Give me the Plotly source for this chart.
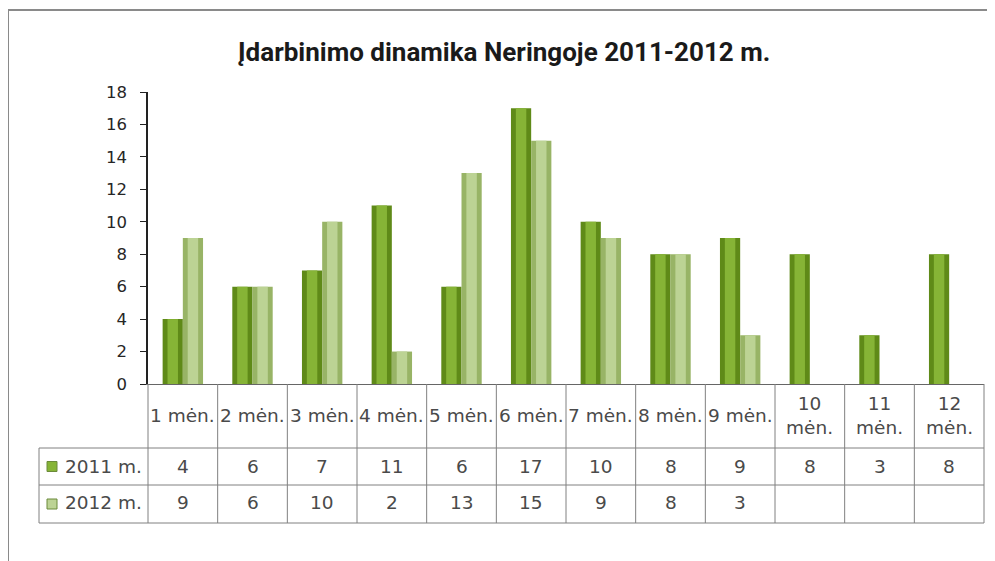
import plotly.graph_objects as go

# ---- data ----
categories = ["1 mėn.", "2 mėn.", "3 mėn.", "4 mėn.", "5 mėn.", "6 mėn.",
              "7 mėn.", "8 mėn.", "9 mėn.", "10 mėn.", "11 mėn.", "12 mėn."]
table_labels = ["1 mėn.", "2 mėn.", "3 mėn.", "4 mėn.", "5 mėn.", "6 mėn.",
                "7 mėn.", "8 mėn.", "9 mėn.", "10<br>mėn.", "11<br>mėn.", "12<br>mėn."]
series_names = ["2011 m.", "2012 m."]
values_2011 = [4, 6, 7, 11, 6, 17, 10, 8, 9, 8, 3, 8]
values_2012 = [9, 6, 10, 2, 13, 15, 9, 8, 3, None, None, None]
y_ticks = [0, 2, 4, 6, 8, 10, 12, 14, 16, 18]
title_text = "Įdarbinimo dinamika Neringoje 2011-2012 m."

# ---- geometry (reference pixels; page body adds an 8px offset) ----
OFF = 8
W, H = 995 - OFF, 561 - OFF
L, R, T, B = 148, 984, 92, 384   # plot area in reference pixels


def px(x):
    return (x - L) / (R - L)


def py(y):
    return (B - y) / (B - T)


dark_out, dark_in = "#5f8a18", "#86b436"
light_out, light_in = "#98b466", "#bcd394"

fig = go.Figure()
bw = 0.29
fig.add_trace(go.Bar(x=categories, y=values_2011, width=bw, offset=-bw,
                     marker=dict(color=dark_out, line=dict(width=0)), name=series_names[0]))
fig.add_trace(go.Bar(x=categories, y=values_2011, width=0.15, offset=-bw + 0.07,
                     marker=dict(color=dark_in, line=dict(width=0)), showlegend=False))
fig.add_trace(go.Bar(x=categories, y=values_2012, width=bw, offset=0,
                     marker=dict(color=light_out, line=dict(width=0)), name=series_names[1]))
fig.add_trace(go.Bar(x=categories, y=values_2012, width=0.15, offset=0.07,
                     marker=dict(color=light_in, line=dict(width=0)), showlegend=False))

shapes = []
line_col = "#808080"
# outer chart border (top and left visible)
shapes.append(dict(type="line", xref="paper", yref="paper", x0=px(8), x1=px(1000), y0=py(10), y1=py(10),
                   line=dict(color="#8a8a8a", width=2)))
shapes.append(dict(type="line", xref="paper", yref="paper", x0=px(8), x1=px(8), y0=py(10), y1=py(570),
                   line=dict(color="#8a8a8a", width=2)))

# data table grid
row_y = [B, 448, 485, 523]
n = len(categories)
colw = (R - L) / n
for i in range(n + 1):
    xx = L + i * colw
    shapes.append(dict(type="line", xref="paper", yref="paper", x0=px(xx), x1=px(xx),
                       y0=py(B), y1=py(523), line=dict(color=line_col, width=1)))
for yy in row_y[1:]:
    shapes.append(dict(type="line", xref="paper", yref="paper", x0=px(39), x1=px(R),
                       y0=py(yy), y1=py(yy), line=dict(color=line_col, width=1)))
shapes.append(dict(type="line", xref="paper", yref="paper", x0=px(39), x1=px(39),
                   y0=py(448), y1=py(523), line=dict(color=line_col, width=1)))
# legend keys
for (yc, col) in [(466.5, dark_in), (504, light_in)]:
    shapes.append(dict(type="rect", xref="paper", yref="paper", x0=px(47), x1=px(57),
                       y0=py(yc - 5), y1=py(yc + 5), fillcolor=col,
                       line=dict(color="#6b8a3a", width=1)))

annotations = []
tfont = dict(family="DejaVu Sans, Open Sans, sans-serif", size=18.5, color="#4a4a4a")
for i, lab in enumerate(table_labels):
    annotations.append(dict(x=categories[i], xref="x", y=py(415), yref="paper", text=lab,
                            showarrow=False, font=tfont, xanchor="center", yanchor="middle"))
    v1 = values_2011[i]
    v2 = values_2012[i]
    if v1 is not None:
        annotations.append(dict(x=categories[i], xref="x", y=py(466), yref="paper", text=str(v1),
                                showarrow=False, font=tfont, xanchor="center", yanchor="middle"))
    if v2 is not None:
        annotations.append(dict(x=categories[i], xref="x", y=py(502), yref="paper", text=str(v2),
                                showarrow=False, font=tfont, xanchor="center", yanchor="middle"))
for name, yc in zip(series_names, [466, 502]):
    annotations.append(dict(x=px(63), xref="paper", y=py(yc), yref="paper", text=name,
                            showarrow=False, font=tfont, xanchor="left", yanchor="middle"))
annotations.append(dict(x=px(504), xref="paper", y=py(52), yref="paper", text="<b>" + title_text + "</b>",
                        showarrow=False, xanchor="center", yanchor="middle",
                        font=dict(family="Roboto, sans-serif", size=26, color="#1a1a1a")))

fig.update_layout(
    width=W, height=H,
    margin=dict(l=L - OFF, r=W - (R - OFF), t=T - OFF, b=H - (B - OFF), pad=0),
    paper_bgcolor="white", plot_bgcolor="white",
    barmode="overlay", showlegend=False,
    shapes=shapes, annotations=annotations,
    xaxis=dict(type="category", showticklabels=False, showgrid=False, zeroline=False,
               showline=True, linecolor="#666666", linewidth=1,
               ticks="", range=[-0.5, n - 0.5]),
    yaxis=dict(range=[0, 18], tickvals=y_ticks, showgrid=False, zeroline=False,
               showline=True, linecolor="#222222", linewidth=1.5,
               ticks="outside", ticklen=6, tickcolor="#222222", ticklabelstandoff=10,
               tickfont=dict(family="DejaVu Sans, Open Sans, sans-serif", size=16.5, color="#262626")),
)

fig.write_html("out.html")
